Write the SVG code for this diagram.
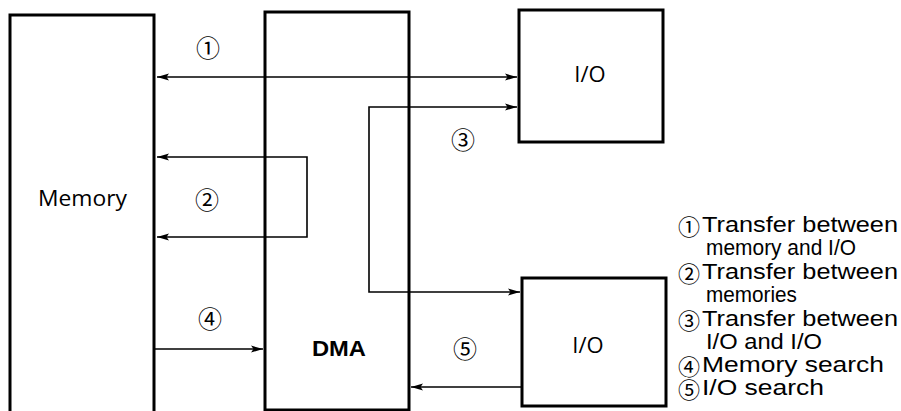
<svg xmlns="http://www.w3.org/2000/svg" width="901" height="411" viewBox="0 0 901 411">
<style>
.box{fill:#fff;stroke:#000;stroke-width:3}
.open{fill:none;stroke:#000;stroke-width:3}
.conn{fill:none;stroke:#000;stroke-width:1.6}
.lbl{font-family:"Open Sans","Liberation Sans",sans-serif;font-size:22px;fill:#000}
.bold{font-family:"Liberation Sans",Arial,sans-serif;font-weight:bold}
.num{font-family:"Noto Sans CJK JP","DejaVu Sans",sans-serif;font-size:24px;fill:#000}
.leg{font-family:"Liberation Sans",Arial,sans-serif;font-size:21.5px;fill:#000}
.legnum{font-family:"Noto Sans CJK JP","DejaVu Sans",sans-serif;font-size:22px;fill:#000}
</style>
<defs>
<marker id="ah" markerUnits="userSpaceOnUse" markerWidth="14" markerHeight="10" refX="12" refY="4" orient="auto-start-reverse">
<path d="M0,0.5 L12,4 L0,7.5 L2.5,4 z" fill="#000"/>
</marker>
</defs>
<rect width="901" height="411" fill="#fff"/>
<g id="memory">
<path class="open" d="M10,412 V15 H154 V412"/>
<text class="lbl" x="38" y="206" textLength="89" lengthAdjust="spacingAndGlyphs">Memory</text>
</g>
<g id="dma">
<rect class="box" x="265" y="12" width="144" height="398"/>
<text class="lbl bold" x="312" y="356" textLength="54" lengthAdjust="spacingAndGlyphs">DMA</text>
</g>
<g id="io-top">
<rect class="box" x="519" y="10" width="144" height="132"/>
<text class="lbl" x="590" y="82" text-anchor="middle">I/O</text>
</g>
<g id="io-bottom">
<rect class="box" x="522" y="278" width="144" height="128"/>
<text class="lbl" x="588" y="353" text-anchor="middle">I/O</text>
</g>
<g id="connectors">
<path class="conn" d="M157,77 H517" marker-start="url(#ah)" marker-end="url(#ah)"/>
<path class="conn" d="M157,157 H307 V237 H157" marker-start="url(#ah)" marker-end="url(#ah)"/>
<path class="conn" d="M517,107 H369 V292 H520" marker-start="url(#ah)" marker-end="url(#ah)"/>
<path class="conn" d="M155,349 H263" marker-end="url(#ah)"/>
<path class="conn" d="M522,387 H411" marker-end="url(#ah)"/>
</g>
<g id="connector-labels">
<text class="num" x="208" y="46" text-anchor="middle" dominant-baseline="central">①</text>
<text class="num" x="207" y="198" text-anchor="middle" dominant-baseline="central">②</text>
<text class="num" x="463" y="138" text-anchor="middle" dominant-baseline="central">③</text>
<text class="num" x="210" y="317" text-anchor="middle" dominant-baseline="central">④</text>
<text class="num" x="465" y="347" text-anchor="middle" dominant-baseline="central">⑤</text>
</g>
<g id="legend">
<text class="legnum" x="689" y="225" text-anchor="middle" dominant-baseline="central">①</text>
<text class="leg" x="702" y="232" textLength="196" lengthAdjust="spacingAndGlyphs">Transfer between</text>
<text class="leg" x="706" y="255" textLength="150" lengthAdjust="spacingAndGlyphs">memory and I/O</text>
<text class="legnum" x="689" y="272" text-anchor="middle" dominant-baseline="central">②</text>
<text class="leg" x="702" y="279" textLength="196" lengthAdjust="spacingAndGlyphs">Transfer between</text>
<text class="leg" x="706" y="302" textLength="91" lengthAdjust="spacingAndGlyphs">memories</text>
<text class="legnum" x="689" y="319" text-anchor="middle" dominant-baseline="central">③</text>
<text class="leg" x="702" y="326" textLength="196" lengthAdjust="spacingAndGlyphs">Transfer between</text>
<text class="leg" x="706" y="349" textLength="116" lengthAdjust="spacingAndGlyphs">I/O and I/O</text>
<text class="legnum" x="689" y="365" text-anchor="middle" dominant-baseline="central">④</text>
<text class="leg" x="702" y="372" textLength="182" lengthAdjust="spacingAndGlyphs">Memory search</text>
<text class="legnum" x="689" y="388" text-anchor="middle" dominant-baseline="central">⑤</text>
<text class="leg" x="702" y="395" textLength="122" lengthAdjust="spacingAndGlyphs">I/O search</text>
</g>
</svg>
